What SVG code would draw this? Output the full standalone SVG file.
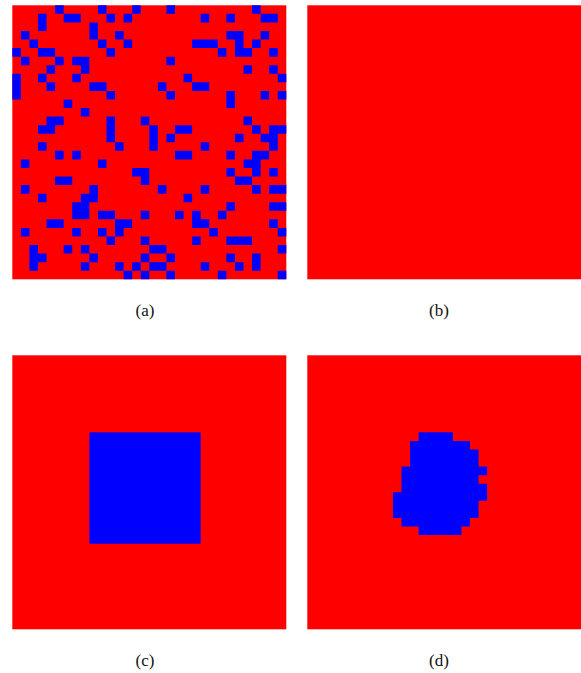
<svg xmlns="http://www.w3.org/2000/svg" width="581" height="673" viewBox="0 0 581 673">
<style>
.bg{fill:#ff0000}
.fg{fill:#0000ff}
.lbl{font-family:"Liberation Serif","DejaVu Serif",serif;font-size:17px;fill:#111;text-anchor:middle}
</style>
<rect width="581" height="673" fill="#ffffff"/>
<g id="panel-a" transform="translate(12.3 5.3) scale(8.5625)">
<rect class="bg" width="32" height="32"/>
<path class="fg" d="M5 0h1v1h-1zM10 0h1v1h-1zM14 0h1v1h-1zM18 0h1v1h-1zM28 0h1v1h-1z
M3 1h1v1h-1zM6 1h2v1h-2zM11 1h1v1h-1zM13 1h1v1h-1zM22 1h1v1h-1zM25 1h1v1h-1zM29 1h2v1h-2z
M3 2h1v1h-1zM9 2h1v1h-1z
M1 3h1v1h-1zM9 3h1v1h-1zM12 3h1v1h-1zM25 3h2v1h-2zM29 3h1v1h-1z
M2 4h1v1h-1zM10 4h1v1h-1zM13 4h1v1h-1zM21 4h3v1h-3zM26 4h1v1h-1zM28 4h1v1h-1z
M0 5h1v1h-1zM3 5h2v1h-2zM11 5h1v1h-1zM24 5h1v1h-1zM26 5h2v1h-2zM30 5h1v1h-1z
M1 6h1v1h-1zM5 6h1v1h-1zM7 6h2v1h-2zM18 6h1v1h-1z
M4 7h1v1h-1zM8 7h1v1h-1zM27 7h1v1h-1zM30 7h1v1h-1z
M0 8h1v1h-1zM3 8h1v1h-1zM7 8h1v1h-1zM20 8h1v1h-1zM31 8h1v1h-1z
M0 9h1v1h-1zM4 9h1v1h-1zM9 9h2v1h-2zM17 9h1v1h-1zM21 9h2v1h-2z
M0 10h1v1h-1zM11 10h1v1h-1zM18 10h1v1h-1zM25 10h1v1h-1zM29 10h1v1h-1zM31 10h1v1h-1z
M6 11h1v1h-1zM25 11h1v1h-1z
M8 12h1v1h-1z
M4 13h2v1h-2zM11 13h1v1h-1zM15 13h1v1h-1zM27 13h1v1h-1z
M3 14h2v1h-2zM11 14h1v1h-1zM16 14h1v1h-1zM19 14h2v1h-2zM28 14h1v1h-1zM30 14h2v1h-2z
M11 15h1v1h-1zM16 15h1v1h-1zM18 15h1v1h-1zM26 15h1v1h-1zM29 15h2v1h-2z
M3 16h1v1h-1zM12 16h1v1h-1zM16 16h1v1h-1zM22 16h1v1h-1zM30 16h1v1h-1z
M5 17h1v1h-1zM7 17h1v1h-1zM19 17h2v1h-2zM25 17h1v1h-1zM28 17h2v1h-2z
M1 18h1v1h-1zM10 18h1v1h-1zM27 18h2v1h-2z
M14 19h2v1h-2zM25 19h1v1h-1zM28 19h1v1h-1zM30 19h1v1h-1z
M5 20h2v1h-2zM15 20h1v1h-1zM26 20h2v1h-2z
M1 21h1v1h-1zM9 21h1v1h-1zM17 21h1v1h-1zM22 21h1v1h-1zM28 21h1v1h-1zM30 21h2v1h-2z
M3 22h1v1h-1zM8 22h2v1h-2zM20 22h1v1h-1z
M7 23h2v1h-2zM25 23h1v1h-1zM30 23h2v1h-2z
M7 24h2v1h-2zM10 24h2v1h-2zM15 24h1v1h-1zM19 24h1v1h-1zM21 24h1v1h-1zM24 24h1v1h-1z
M4 25h2v1h-2zM12 25h2v1h-2zM21 25h2v1h-2zM30 25h1v1h-1z
M1 26h1v1h-1zM7 26h1v1h-1zM10 26h1v1h-1zM12 26h1v1h-1zM23 26h1v1h-1zM31 26h1v1h-1z
M11 27h1v1h-1zM15 27h1v1h-1zM21 27h1v1h-1zM25 27h3v1h-3z
M2 28h1v1h-1zM6 28h1v1h-1zM8 28h1v1h-1zM16 28h2v1h-2zM31 28h1v1h-1z
M2 29h2v1h-2zM9 29h1v1h-1zM15 29h1v1h-1zM18 29h1v1h-1zM25 29h1v1h-1zM28 29h1v1h-1z
M2 30h1v1h-1zM8 30h1v1h-1zM12 30h1v1h-1zM14 30h1v1h-1zM16 30h2v1h-2zM22 30h1v1h-1zM26 30h1v1h-1zM28 30h1v1h-1z
M13 31h1v1h-1zM15 31h1v1h-1zM18 31h1v1h-1zM24 31h1v1h-1zM31 31h1v1h-1z"/>
</g>
<g id="panel-b" transform="translate(307.3 5.3) scale(8.5625)">
<rect class="bg" width="32" height="32"/>
</g>
<g id="panel-c" transform="translate(12.3 355.3) scale(8.5625)">
<rect class="bg" width="32" height="32"/>
<rect class="fg" x="9" y="9" width="13" height="13"/>
</g>
<g id="panel-d" transform="translate(307.3 355.3) scale(8.5625)">
<rect class="bg" width="32" height="32"/>
<path class="fg" d="M13 9h4v1h-4zM12 10h7v1h-7zM12 11h8v2h-8zM11 13h10v1h-10zM11 14h9v1h-9zM11 15h10v1h-10zM10 16h11v1h-11zM10 17h10v2h-10zM11 19h8v1h-8zM13 20h5v1h-5z"/>
</g>
<g id="labels">
<text class="lbl" x="145" y="316">(a)</text>
<text class="lbl" x="439" y="316">(b)</text>
<text class="lbl" x="145" y="666">(c)</text>
<text class="lbl" x="439" y="666">(d)</text>
</g>
</svg>
